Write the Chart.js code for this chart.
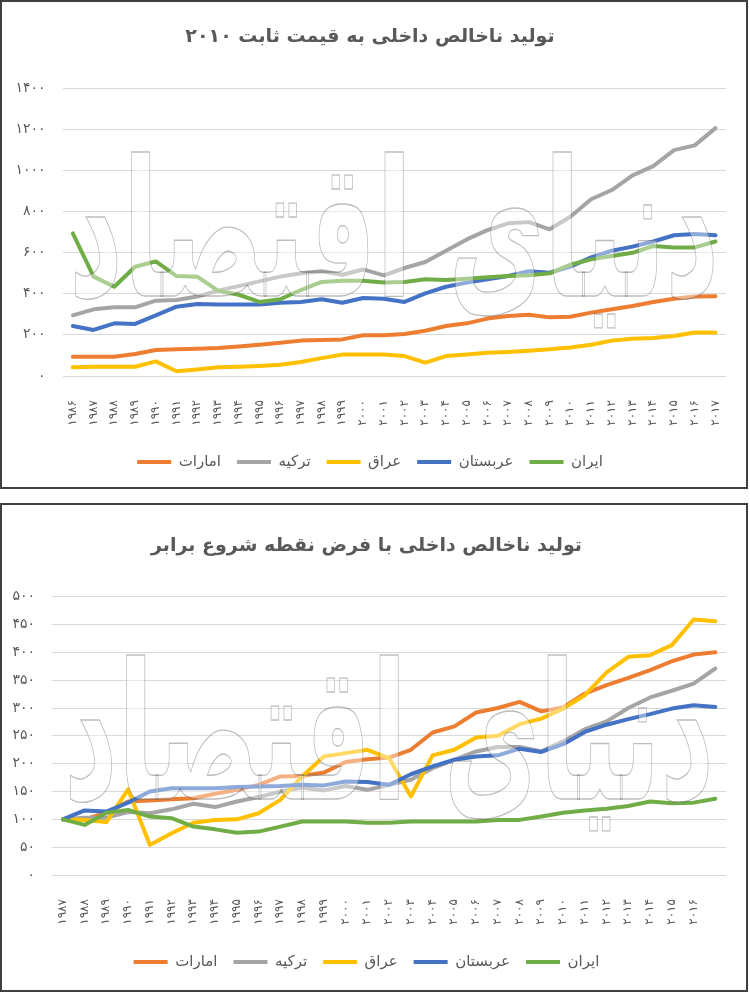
<!DOCTYPE html>
<html lang="fa">
<head>
<meta charset="utf-8">
<title>تولید ناخالص داخلی</title>
<script src="https://cdn.jsdelivr.net/npm/chart.js@4.4.1/dist/chart.umd.min.js"></script>
<style>
    body { margin:0; background:#fff; }
    .box { position:absolute; left:0; width:744px; height:485px; border:2px solid #3f3f3f; background:#fff; }
    .box div { position:relative; width:744px; height:485px; }
</style>
</head>
<body>
<div class="box" style="top:0"><div><canvas id="canvGdp"></canvas></div></div>
<div class="box" style="top:503px"><div><canvas id="canvIndex"></canvas></div></div>
<script>
// chart 1 - GDP at constant 2010 prices
const years1 = ['۱۹۸۶','۱۹۸۷','۱۹۸۸','۱۹۸۹','۱۹۹۰','۱۹۹۱','۱۹۹۲','۱۹۹۳','۱۹۹۴','۱۹۹۵','۱۹۹۶','۱۹۹۷','۱۹۹۸','۱۹۹۹','۲۰۰۰','۲۰۰۱',
    '۲۰۰۲','۲۰۰۳','۲۰۰۴','۲۰۰۵','۲۰۰۶','۲۰۰۷','۲۰۰۸','۲۰۰۹','۲۰۱۰','۲۰۱۱','۲۰۱۲','۲۰۱۳','۲۰۱۴','۲۰۱۵','۲۰۱۶','۲۰۱۷'];
const emirates1 = [94,94,94,107,126,130,133,136,143,152,162,172,175,178,198,198,204,220,243,256,279,292,298,285,288,308,324,340,360,376,386,388];
const turkey1 = [295,324,334,334,366,369,386,415,437,460,483,499,509,492,518,489,525,554,609,664,709,742,748,713,774,859,904,975,1020,1098,1121,1205];
const iraq1 = [42,45,45,45,71,23,32,42,45,49,55,68,87,104,104,104,97,65,97,104,113,117,123,130,139,152,172,181,185,194,211,211];
const saudi1 = [243,224,256,253,295,337,350,347,347,347,356,360,373,356,379,376,360,402,434,454,470,486,509,502,532,577,609,629,654,684,690,684];
const iran1 = [693,483,434,531,557,486,483,415,395,360,373,418,457,463,463,454,457,470,467,473,480,486,490,499,541,567,583,599,632,625,625,654];

// chart 2 - same start point (1987 = 100)
const years2 = ['۱۹۸۷','۱۹۸۸','۱۹۸۹','۱۹۹۰','۱۹۹۱','۱۹۹۲','۱۹۹۳','۱۹۹۴','۱۹۹۵','۱۹۹۶','۱۹۹۷','۱۹۹۸','۱۹۹۹','۲۰۰۰','۲۰۰۱',
    '۲۰۰۲','۲۰۰۳','۲۰۰۴','۲۰۰۵','۲۰۰۶','۲۰۰۷','۲۰۰۸','۲۰۰۹','۲۰۱۰','۲۰۱۱','۲۰۱۲','۲۰۱۳','۲۰۱۴','۲۰۱۵','۲۰۱۶',''];
const emirates2 = [100,100,112,132,134,136,138,146,153,162,177,178,184,203,208,211,225,256,267,292,300,311,294,301,326,341,354,368,384,396,400];
const turkey2 = [100,103,103,113,111,118,128,122,132,140,150,157,152,160,153,162,171,192,207,222,230,230,222,240,262,276,300,319,331,344,371];
const iraq2 = [100,99,95,154,54,75,94,99,100,111,135,177,213,219,225,210,141,215,225,247,250,271,281,299,323,364,392,395,413,459,456];
const saudi2 = [100,116,114,130,150,156,156,156,158,159,160,162,161,168,167,162,181,195,207,213,215,227,221,235,257,270,280,289,299,305,302];
const iran2 = [100,90,112,117,105,102,87,82,76,78,87,96,96,96,94,94,96,96,96,96,99,99,105,112,116,119,124,132,129,130,137];

const countryNames = ['امارات','ترکیه','عراق','عربستان','ایران'];
const countryColors = ['#ED7D31','#A5A5A5','#FFC000','#4472C4','#70AD47'];

const faDigits = '۰۱۲۳۴۵۶۷۸۹';
const toFa = (n) => String(n).replace(/\d/g, d => faDigits[d]);
const strFont = 'DejaVu Sans';
const strText = '#595959';
const strMark = 'دنیای اقتصاد';

// faint outlined watermark over the lines
const watermark = {
    id: 'watermark',
    afterDatasetsDraw(chart) {
        const {ctx, chartArea} = chart;
        ctx.save();
        ctx.font = 'bold 190px "' + strFont + '"';
        ctx.textAlign = 'center';
        ctx.textBaseline = 'middle';
        const w = ctx.measureText(strMark).width;
        ctx.translate((chartArea.left + chartArea.right) / 2, chartArea.top + (chartArea.bottom - chartArea.top) * 0.55);
        ctx.scale(650 / w, 1);
        ctx.fillStyle = 'rgba(255,255,255,0.4)';
        ctx.strokeStyle = 'rgba(90,90,90,0.4)';
        ctx.lineWidth = 1.3;
        ctx.fillText(strMark, 0, 0);
        ctx.strokeText(strMark, 0, 0);
        ctx.restore();
    }
};

// builds the five datasets; iran is drawn on top like in excel
const makeDatasets = (arrSeries) => arrSeries.map((arr, i) => ({
    label: countryNames[i],
    data: arr,
    borderColor: countryColors[i],
    backgroundColor: countryColors[i],
    borderWidth: 4,
    borderCapStyle: 'round',
    borderJoinStyle: 'round',
    pointRadius: 0,
    tension: 0,
    order: arrSeries.length - 1 - i
}));

const makeOptions = (cfg) => ({
    responsive: true,
    maintainAspectRatio: false,
    animation: false,
    layout: { padding: { left: 0, right: cfg.padRight, top: 0, bottom: cfg.padBottom } },
    plugins: {
        title: {
            display: true,
            text: cfg.title,
            color: strText,
            font: { family: strFont, size: 19, weight: 'bold' },
            padding: { top: cfg.titleTop, bottom: cfg.titleBottom }
        },
        legend: {
            position: 'bottom',
            reverse: true,
            labels: {
                usePointStyle: true,
                pointStyle: 'line',
                pointStyleWidth: 34,
                color: strText,
                font: { family: strFont, size: 15 },
                padding: 16
            }
        },
        tooltip: { enabled: false }
    },
    scales: {
        x: {
            offset: true,
            grid: { display: false },
            border: { display: false },
            ticks: { autoSkip: false, minRotation: 90, maxRotation: 90, padding: 16, color: strText, font: { family: strFont, size: 12 } },
            afterFit: (s) => { s.height = cfg.xHeight; }
        },
        y: {
            min: 0,
            max: cfg.max,
            grid: { color: '#D9D9D9', drawTicks: false },
            border: { display: false },
            ticks: { stepSize: cfg.step, padding: 17, color: strText, font: { family: strFont, size: 14 }, callback: (v) => toFa(v) },
            afterFit: (s) => { s.width = cfg.yWidth; }
        }
    }
});

new Chart(document.getElementById('canvGdp'), {
    type: 'line',
    data: { labels: years1, datasets: makeDatasets([emirates1, turkey1, iraq1, saudi1, iran1]) },
    options: makeOptions({ title: 'تولید ناخالص داخلی به قیمت ثابت ۲۰۱۰', max: 1400, step: 200,
        padRight: 8, padBottom: 7.5, titleTop: 23.6, titleBottom: 39.6, xHeight: 62.5, yWidth: 60.5 }),
    plugins: [watermark]
});

new Chart(document.getElementById('canvIndex'), {
    type: 'line',
    data: { labels: years2, datasets: makeDatasets([emirates2, turkey2, iraq2, saudi2, iran2]) },
    options: makeOptions({ title: 'تولید ناخالص داخلی با فرض نقطه شروع برابر', max: 500, step: 50,
        padRight: 15, padBottom: 10.5, titleTop: 29.6, titleBottom: 39.3, xHeight: 63.5, yWidth: 50 }),
    plugins: [watermark]
});
</script>
</body>
</html>
